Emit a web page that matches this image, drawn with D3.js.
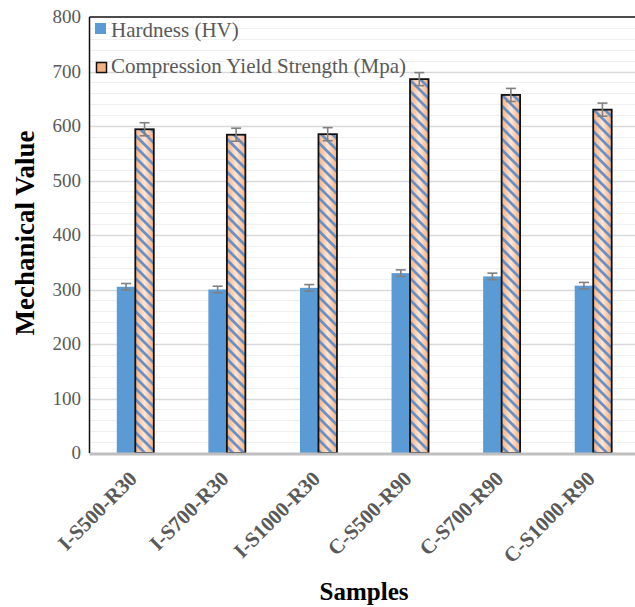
<!DOCTYPE html>
<html>
<head>
<meta charset="utf-8">
<script src="https://d3js.org/d3.v7.min.js"></script>
<style>
  body { margin: 0; background: #fff; }
  svg text { font-family: "Liberation Serif", "Times New Roman", serif; }
</style>
</head>
<body>
<svg id="chart" width="635" height="607"></svg>
<script>
var samples = ["I-S500-R30", "I-S700-R30", "I-S1000-R30", "C-S500-R90", "C-S700-R90", "C-S1000-R90"];
var hardness = [305, 300, 303, 330, 324, 307];
var hardnessErr = [6, 6, 6, 6, 6, 6];
var yieldStrength = [594, 584, 585, 686, 657, 630];
var yieldErr = [12, 12, 12, 12, 12, 12];
var yTicks = [0, 100, 200, 300, 400, 500, 600, 700, 800];
var seriesNames = ["Hardness (HV)", "Compression Yield Strength (Mpa)"];

var svg = d3.select("#chart");
var margin = {left: 89.5, top: 17, right: -4, bottom: 154};
var width = 635 - margin.left - margin.right,
    height = 607 - margin.top - margin.bottom;

var x = d3.scaleBand().domain(samples).range([margin.left, margin.left + width]);
var y = d3.scaleLinear().domain([0, 800]).range([margin.top + height, margin.top]);
var barW = 18.5;

var defs = svg.append("defs");
var grad = defs.append("linearGradient").attr("id", "peach")
    .attr("x1", 0).attr("x2", 1).attr("y1", 0).attr("y2", 0);
grad.append("stop").attr("offset", "0%").attr("stop-color", "#f4b183");
grad.append("stop").attr("offset", "50%").attr("stop-color", "#fde6d6");
grad.append("stop").attr("offset", "100%").attr("stop-color", "#f4b183");

var pat = defs.append("pattern").attr("id", "stripes")
    .attr("patternUnits", "userSpaceOnUse")
    .attr("width", 11).attr("height", 11);
pat.append("path")
    .attr("d", "M-2,-2 L13,13 M-8,3 L2,13 M3,-8 L13,2")
    .attr("stroke", "#6b8fc2").attr("stroke-width", 2.8);

// minor gridlines every 20
var minor = d3.range(0, 801, 20).filter(function(d) { return d % 100 !== 0; });
svg.append("g").selectAll("line").data(minor).enter().append("line")
    .attr("x1", margin.left).attr("x2", 635)
    .attr("y1", function(d) { return Math.round(y(d)) + 0.5; })
    .attr("y2", function(d) { return Math.round(y(d)) + 0.5; })
    .attr("stroke", "#efefef").attr("stroke-width", 1.2);

svg.append("g").selectAll("line").data(yTicks.slice(1, -1)).enter().append("line")
    .attr("x1", margin.left).attr("x2", 635)
    .attr("y1", function(d) { return Math.round(y(d)) + 0.5; })
    .attr("y2", function(d) { return Math.round(y(d)) + 0.5; })
    .attr("stroke", "#d9d9d9").attr("stroke-width", 1.3);

// y tick labels
svg.append("g").selectAll("text").data(yTicks).enter().append("text")
    .attr("x", 81).attr("y", function(d) { return y(d) + 6; })
    .attr("text-anchor", "end")
    .attr("font-size", 19).attr("fill", "#595959")
    .text(function(d) { return d; });

// hardness bars
svg.append("g").selectAll("rect").data(hardness).enter().append("rect")
    .attr("x", function(d, i) { return x(samples[i]) + x.bandwidth() / 2 - barW; })
    .attr("y", function(d) { return y(d); })
    .attr("width", barW)
    .attr("height", function(d) { return y(0) - y(d); })
    .attr("fill", "#5b9bd5");

// yield bars: gradient, stripes, outline
var yg = svg.append("g");
yg.selectAll("rect.base").data(yieldStrength).enter().append("rect")
    .attr("class", "base")
    .attr("x", function(d, i) { return x(samples[i]) + x.bandwidth() / 2; })
    .attr("y", function(d) { return y(d); })
    .attr("width", barW)
    .attr("height", function(d) { return y(0) - y(d); })
    .attr("fill", "url(#peach)");
yg.selectAll("rect.str").data(yieldStrength).enter().append("rect")
    .attr("class", "str")
    .attr("x", function(d, i) { return x(samples[i]) + x.bandwidth() / 2; })
    .attr("y", function(d) { return y(d); })
    .attr("width", barW)
    .attr("height", function(d) { return y(0) - y(d); })
    .attr("fill", "url(#stripes)")
    .attr("stroke", "#111").attr("stroke-width", 1.8);

// error bars
function errBars(vals, errs, off) {
  var g = svg.append("g").attr("stroke", "#808080").attr("stroke-width", 1.6);
  vals.forEach(function(v, i) {
    var cx = x(samples[i]) + x.bandwidth() / 2 + off;
    g.append("line").attr("x1", cx).attr("x2", cx).attr("y1", y(v - errs[i])).attr("y2", y(v + errs[i]));
    g.append("line").attr("x1", cx - 5).attr("x2", cx + 5).attr("y1", y(v + errs[i])).attr("y2", y(v + errs[i]));
    g.append("line").attr("x1", cx - 5).attr("x2", cx + 5).attr("y1", y(v - errs[i])).attr("y2", y(v - errs[i]));
  });
}
errBars(hardness, hardnessErr, -barW / 2);
errBars(yieldStrength, yieldErr, barW / 2);

// axis lines
svg.append("line").attr("x1", margin.left).attr("x2", 635)
    .attr("y1", y(0) + 1).attr("y2", y(0) + 1)
    .attr("stroke", "#bfbfbf").attr("stroke-width", 3);
svg.append("line").attr("x1", margin.left).attr("x2", 635)
    .attr("y1", margin.top).attr("y2", margin.top)
    .attr("stroke", "#111").attr("stroke-width", 1.5);
svg.append("line").attr("x1", margin.left).attr("x2", margin.left)
    .attr("y1", margin.top).attr("y2", y(0))
    .attr("stroke", "#111").attr("stroke-width", 1.5);

// x labels
svg.append("g").selectAll("text").data(samples).enter().append("text")
    .attr("transform", function(d) {
      return "translate(" + (x(d) + x.bandwidth() / 2 + 3) + "," + 480 + ") rotate(-45)";
    })
    .attr("text-anchor", "end")
    .attr("font-size", 21).attr("font-weight", "bold").attr("fill", "#595959")
    .text(function(d) { return d; });

// titles
svg.append("text").attr("x", 364).attr("y", 600)
    .attr("text-anchor", "middle").attr("font-size", 25).attr("font-weight", "bold")
    .text("Samples");
svg.append("text").attr("transform", "translate(34,233) rotate(-90)")
    .attr("text-anchor", "middle").attr("font-size", 27).attr("font-weight", "bold")
    .text("Mechanical Value");

// legend
var leg = svg.append("g");
leg.append("rect").attr("x", 95).attr("y", 23).attr("width", 11).attr("height", 11).attr("fill", "#5b9bd5");
leg.append("rect").attr("x", 96.5).attr("y", 62.5).attr("width", 10).attr("height", 10)
    .attr("fill", "#f4b183").attr("stroke", "#111").attr("stroke-width", 1.5);
leg.selectAll("text").data(seriesNames).enter().append("text")
    .attr("x", 111).attr("y", function(d, i) { return 37 + i * 36; })
    .attr("font-size", 21).attr("fill", "#595959")
    .text(function(d) { return d; });
</script>
</body>
</html>
